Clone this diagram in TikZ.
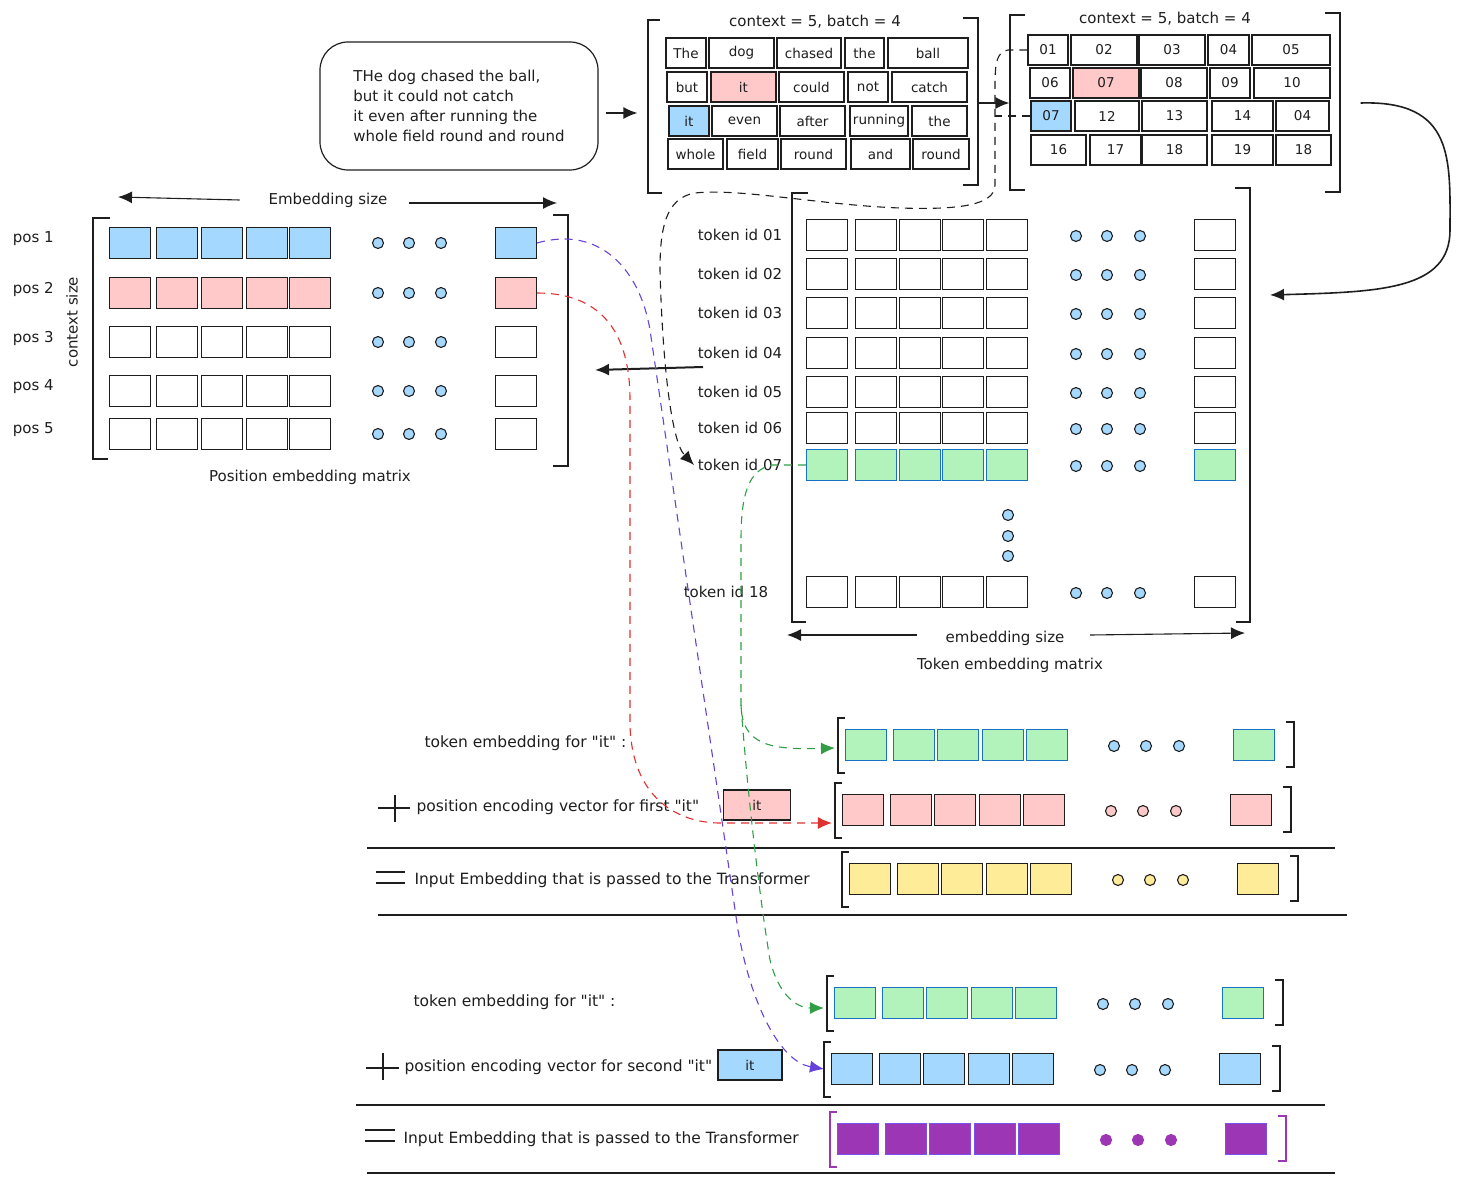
\documentclass[tikz,border=0pt]{standalone}
\usepackage{xcolor}
\usepackage{fontspec}
\setmainfont{DejaVu Sans}
\usetikzlibrary{arrows.meta}
\definecolor{bluefill}{HTML}{A5D8FF}
\definecolor{pinkfill}{HTML}{FFC9C9}
\definecolor{greenfill}{HTML}{B2F2BB}
\definecolor{yellowfill}{HTML}{FFEC99}
\definecolor{purplefill}{HTML}{9C36B5}
\definecolor{cellblue}{HTML}{1971C2}
\definecolor{bracketviolet}{HTML}{7950F2}
\definecolor{linkviolet}{HTML}{6741D9}
\definecolor{linkred}{HTML}{E03131}
\definecolor{linkgreen}{HTML}{2F9E44}
\definecolor{ink}{HTML}{1E1E1E}

\begin{document}
\begin{tikzpicture}[x=1pt, y=-1pt, ink, line width=1.1pt,
    font=\fontsize{15}{18}\selectfont,
    cell/.style={draw, minimum width=41, minimum height=31, inner sep=0pt},
    word/.style={draw, minimum height=30, inner sep=0pt, font=\fontsize{13.5}{15}\selectfont},
    bra/.style={line width=1.2pt},
    link/.style={dash pattern=on 8pt off 6pt, line width=1.1pt},
    head/.style={-{Latex[length=14pt,width=12pt]}},
    rowlabel/.style={anchor=west, inner sep=0pt, font=\fontsize{15.5}{18}\selectfont}]
    \useasboundingbox (0,0) rectangle (1461,1185);

    % the sentence
    \node[draw, rounded corners=28pt, minimum width=278, minimum height=128, line width=1.2pt,
        align=left, font=\fontsize{15}{20}\selectfont] (story) at (459,106)
        {THe dog chased the ball,\\but it could not catch\\it even after running the\\whole field round and round};

    % words, context = 5, batch = 4
    \node[minimum width=330, minimum height=175, inner sep=0pt] (words) at (813,103) {};
    \node (wtitle) at (815,22) {context = 5, batch = 4};
    \draw[bra] (660,20) -- (648,20) -- (648,193) -- (662,193);
    \draw[bra] (963,18) -- (978,18) -- (978,185) -- (963,185);
    \foreach \nm/\xa/\xb/\yy/\fc/\txt in {
        w11/666/706/53/white/The, w12/709/774/53/white/dog, w13/777/841/53/white/chased, w14/845/884/53/white/the, w15/888/968/53/white/ball,
        w21/667/707/87/white/but, w22/711/776/87/pinkfill/it, w23/779/844/87/white/could, w24/848/888/87/white/not, w25/892/967/87/white/catch,
        w31/669/709/121/bluefill/it, w32/712/777/121/white/even, w33/780/845/121/white/after, w34/850/908/121/white/running, w35/912/967/121/white/the,
        w41/668/723/154/white/whole, w42/727/778/154/white/field, w43/781/846/154/white/round, w44/851/910/154/white/and, w45/913/969/154/white/round}
        \node[word, fill=\fc, minimum width=\xb-\xa] (\nm) at ({(\xa+\xb)/2},\yy) {\txt};

    % token ids
    \node[minimum width=330, minimum height=177, inner sep=0pt] (ids) at (1175,103) {};
    \node (ititle) at (1165,19) {context = 5, batch = 4};
    \draw[bra] (1025,15) -- (1010,15) -- (1010,190) -- (1025,190);
    \draw[bra] (1325,13) -- (1340,13) -- (1340,192) -- (1325,192);
    \foreach \nm/\xa/\xb/\yy/\fc/\txt in {
        i11/1028/1068/50/white/01, i12/1071/1137/50/white/02, i13/1139/1205/50/white/03, i14/1208/1249/50/white/04, i15/1252/1330/50/white/05,
        i21/1030/1070/83/white/06, i22/1073/1139/83/pinkfill/07, i23/1141/1207/83/white/08, i24/1210/1250/83/white/09, i25/1254/1330/83/white/10,
        i31/1031/1071/116/bluefill/07, i32/1075/1139/116/white/12, i33/1142/1207/116/white/13, i34/1212/1273/116/white/14, i35/1276/1329/116/white/04,
        i41/1031/1086/150/white/16, i42/1090/1141/150/white/17, i43/1142/1207/150/white/18, i44/1212/1273/150/white/19, i45/1276/1331/150/white/18}
        \node[word, fill=\fc, minimum width=\xb-\xa] (\nm) at ({(\xa+\xb)/2},\yy) {\txt};

    % token embedding matrix
    \draw[bra] (808,193) -- (792,193) -- (792,622) -- (806,622);
    \draw[bra] (1235,188) -- (1250,188) -- (1250,622) -- (1236,622);
    \foreach \rr/\yy/\lx/\fc/\bc in {01/235/786/white/ink, 02/274/786/white/ink, 03/313/786/white/ink, 04/353/786/white/ink,
        05/392/786/white/ink, 06/428/786/white/ink, 07/465/786/greenfill/cellblue, 18/592/772/white/ink} {
        \node[anchor=east] (tl\rr) at (\lx,\yy) {token id \rr};
        \foreach \k/\xx in {1/827,2/876,3/920,4/963,5/1007}
            \node[cell, fill=\fc, draw=\bc] (t\rr\k) at (\xx,\yy) {};
        \foreach \xx in {1076,1107,1140}
            \filldraw[fill=bluefill] (\xx,{\yy+1}) circle[radius=5.5];
        \node[cell, fill=\fc, draw=\bc] (t\rr6) at (1215,\yy) {};
    }
    \foreach \yy in {515,536,556}
        \filldraw[fill=bluefill] (1008,\yy) circle[radius=5.5];
    \node (tsz) at (1005,638) {embedding size};
    \coordinate (tszL) at (787,635);
    \coordinate (tszR) at (1245,633);
    \draw[head] ([xshift=-25pt,yshift=3pt]tsz.west) -- (tszL);
    \draw[head] ([xshift=22pt,yshift=3pt]tsz.east) -- (tszR);
    \node (tmat) at (1010,665) {Token embedding matrix};

    % position embedding matrix
    \draw[bra] (110,218) -- (93,218) -- (93,459) -- (108,459);
    \draw[bra] (553,215) -- (568,215) -- (568,466) -- (553,466);
    \foreach \rr/\yy/\fc in {1/243/bluefill, 2/293/pinkfill, 3/342/white, 4/391/white, 5/434/white} {
        \node[anchor=west] (pl\rr) at (9,{\yy-4}) {pos \rr};
        \foreach \k/\xx in {1/130,2/177,3/222,4/267,5/310}
            \node[cell, fill=\fc] (p\rr\k) at (\xx,\yy) {};
        \foreach \xx in {378,409,441}
            \filldraw[fill=bluefill] (\xx,\yy) circle[radius=5.5];
        \node[cell, fill=\fc] (p\rr5) at (516,\yy) {};
    }
    \node[rotate=90] (ctxsz) at (72,322) {context size};
    \node (psz) at (328,200) {Embedding size};
    \coordinate (pszL) at (118,197);
    \coordinate (pszR) at (557,203);
    \draw[head] ([xshift=-25pt]psz.west) -- (pszL);
    \draw[head] ([xshift=18pt,yshift=-3pt]psz.east) -- (pszR);
    \node (pmat) at (310,477) {Position embedding matrix};

    % black arrows
    \draw[head, line width=1.6pt, shorten <=7pt, shorten >=10pt] ([yshift=-7pt]story.east) -- ([yshift=-10pt]words.west);
    \draw[head, line width=1.6pt] (words.east) -- (ids.west);
    \coordinate (tokin) at (1270,295);
    \draw[head, line width=1.6pt] ([xshift=20pt]ids.east) .. controls (1455,100) and (1450,160) .. (1450,230)
        .. controls (1450,290) and (1380,292) .. (tokin);
    \coordinate (lkA) at (703,367);
    \coordinate (lkB) at (595,370);
    \draw[head, line width=2pt] (lkA) -- (lkB);
    \draw[head, link] (i11.west) -- (1008,50) .. controls (997,52) and (995,62) .. (995,85) -- (995,185)
        .. controls (995,205) and (960,210) .. (900,208) .. controls (820,205) and (740,188) .. (695,193)
        .. controls (665,198) and (660,230) .. (660,270) .. controls (662,350) and (670,440) .. (tl07.west);
    \draw[link] (i31.west) -- (995,116);

    % first "it"
    \node[rowlabel] (lblA) at (424,743) {token embedding for \textquotedbl it\textquotedbl\ :};
    \node[rowlabel] (lblB) at (416,807) {position encoding vector for first \textquotedbl it\textquotedbl};
    \node[word, fill=pinkfill, minimum width=67] (itB) at (757,805) {it};
    \node[rowlabel] (lblC) at (414,880) {Input Embedding that is passed to the Transformer};
    % second "it"
    \node[rowlabel] (lblD) at (413,1002) {token embedding for \textquotedbl it\textquotedbl\ :};
    \node[rowlabel] (lblE) at (404,1067) {position encoding vector for second \textquotedbl it\textquotedbl};
    \node[word, fill=bluefill, minimum width=64] (itE) at (750,1065) {it};
    \node[rowlabel] (lblF) at (403,1139) {Input Embedding that is passed to the Transformer};

    \foreach \nm/\xo/\yy/\fc/\bc/\df/\oc in {A/846/745/greenfill/cellblue/bluefill/ink, B/843/810/pinkfill/ink/pinkfill/ink,
        C/850/879/yellowfill/ink/yellowfill/ink, D/835/1003/greenfill/cellblue/bluefill/ink, E/832/1069/bluefill/ink/bluefill/ink,
        F/838/1139/purplefill/bracketviolet/purplefill/purplefill} {
        \draw[bra, draw=\oc] ({\xo-1},{\yy-27}) -- ({\xo-8},{\yy-27}) -- ({\xo-8},{\yy+28}) -- ({\xo-1},{\yy+28});
        \foreach \k/\dx in {1/20,2/68,3/112,4/157,5/201}
            \node[cell, fill=\fc, draw=\bc] (\nm\k) at ({\xo+\dx},\yy) {};
        \foreach \dx in {268,300,333}
            \filldraw[fill=\df, draw=\oc] ({\xo+\dx},{\yy+1}) circle[radius=5.5];
        \node[cell, fill=\fc, draw=\bc] (\nm6) at ({\xo+408},\yy) {};
        \draw[bra, draw=\oc] ({\xo+440},{\yy-23}) -- ({\xo+448},{\yy-23}) -- ({\xo+448},{\yy+22}) -- ({\xo+440},{\yy+22});
    }

    % plus, equals and rules
    \draw[line width=1.3pt] (378,808) -- (410,808) (395,795) -- (395,822);
    \draw[line width=1.3pt] (376,872) -- (405,872) (376,883) -- (405,883);
    \draw[line width=1.3pt] (366,1068) -- (399,1068) (383,1053) -- (383,1080);
    \draw[line width=1.3pt] (365,1130) -- (395,1130) (365,1141) -- (395,1141);
    \draw[line width=1.5pt] (367,848) -- (1335,848);
    \draw[line width=1.5pt] (378,915) -- (1347,915);
    \draw[line width=1.5pt] (356,1105) -- (1325,1105);
    \draw[line width=1.5pt] (367,1173) -- (1335,1173);

    % lookups
    \draw[link, linkviolet, head] (p15.east) .. controls (600,225) and (640,270) .. (650,330) -- (738,930)
        .. controls (752,1010) and (782,1062) .. ([xshift=-7pt]E1.west);
    \draw[link, linkred, head] (p25.east) .. controls (590,293) and (630,320) .. (630,400) -- (630,725)
        .. controls (632,800) and (680,823) .. (720,823) -- ([xshift=-10pt,yshift=-13pt]B1.west);
    \draw[link, linkgreen, head] (t071.west) -- (772,465) .. controls (748,470) and (741,495) .. (741,540) -- (741,705)
        coordinate (gsplit) .. controls (742,745) and (770,750) .. ([xshift=-10pt,yshift=-3pt]A1.west);
    \draw[link, linkgreen, head] (gsplit) .. controls (748,800) and (760,900) .. (770,960)
        .. controls (780,1000) and (800,1008) .. ([xshift=-10pt,yshift=-5pt]D1.west);
\end{tikzpicture}
\end{document}
